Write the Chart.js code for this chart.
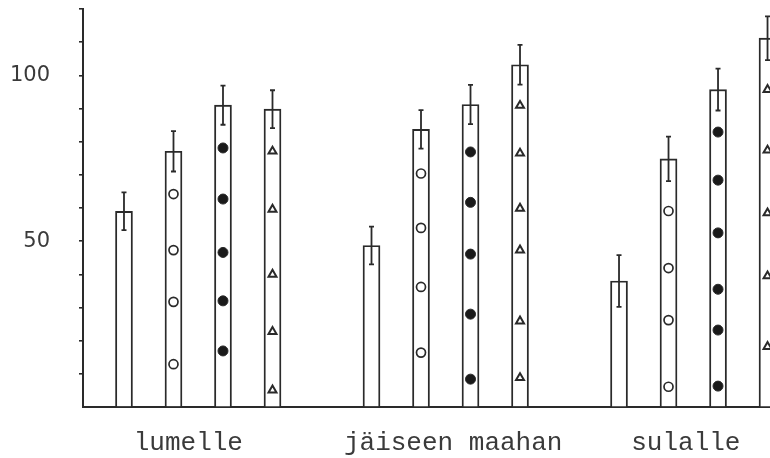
<!DOCTYPE html>
<html>
<head>
<meta charset="utf-8">
<script src="https://cdn.jsdelivr.net/npm/chart.js@4.4.1/dist/chart.umd.min.js"></script>
<style>
  html, body { margin: 0; padding: 0; background: #fff; }
  #wrap { width: 770px; height: 458px; }
</style>
</head>
<body>
<div id="wrap"><canvas id="chart" width="770" height="458"></canvas></div>
<script>
// ── data ─────────────────────────────────────────────────
const categories     = ['lumelle', 'jäiseen maahan', 'sulalle'];
const labelPositions = [1.3, 6.65, 11.35];
const yLabels        = [50, 100];

const plainValues    = [59.0, 48.7, 38.0];
const plainErrors    = [5.7, 5.7, 7.8];
const openValues     = [77.1, 83.7, 74.8];
const openErrors     = [6.1, 5.8, 6.7];
const filledValues   = [91.0, 91.2, 95.7];
const filledErrors   = [5.9, 5.9, 6.3];
const triangleValues = [89.8, 103.2, 111.2];
const triangleErrors = [5.7, 6.0, 6.6];

// symbols printed inside the bars
const openMarks     = [[64.2, 47.3, 31.7, 12.9], [70.4, 54.0, 36.2, 16.4], [59.1, 41.9, 26.2, 6.1]];
const filledMarks   = [[78.1, 62.7, 46.6, 32.0, 16.9], [76.9, 61.7, 46.1, 28.0, 8.4], [82.9, 68.4, 52.5, 35.5, 23.2, 6.3]];
const triangleMarks = [[77.1, 59.6, 40.0, 22.7, 5.1], [90.9, 76.5, 59.9, 47.3, 25.9, 8.8], [95.7, 77.4, 58.5, 39.5, 18.2]];

const INK = '#2a2a2a';
const SLOTS_PER_GROUP = 5;

const slot = (g, s) => g * SLOTS_PER_GROUP + s;

function barSet(values, errors, s) {
  return {
    type:            'bar',
    data:            values.map((v, g) => ({ x: slot(g, s), y: v })),
    errors:          errors,
    backgroundColor: '#fff',
    borderColor:     INK,
    borderWidth:     1.9,
    borderSkipped:   'bottom',
    barThickness:    17,
    grouped:         false,
    order:           2,
  };
}

function markSet(marks, s, style) {
  const pts = [];
  marks.forEach((list, g) => list.forEach(v => pts.push({ x: slot(g, s), y: v })));
  return Object.assign({
    type:        'scatter',
    data:        pts,
    borderColor: INK,
    order:       1,
  }, style);
}

// error bars: drawn from each bar's errors through the y scale
const errorBars = {
  id: 'errorBars',
  afterDatasetsDraw(chart) {
    const { ctx, scales: { y } } = chart;
    ctx.save();
    ctx.strokeStyle = INK;
    ctx.lineWidth   = 1.8;
    chart.data.datasets.forEach((ds, i) => {
      if (!ds.errors) return;
      chart.getDatasetMeta(i).data.forEach((el, j) => {
        const v  = ds.data[j].y;
        const e  = ds.errors[j];
        const yt = y.getPixelForValue(v + e);
        const yb = y.getPixelForValue(v - e);
        const x  = el.x;
        ctx.beginPath();
        ctx.moveTo(x, yt); ctx.lineTo(x, yb);
        ctx.moveTo(x - 2.5, yt); ctx.lineTo(x + 2.5, yt);
        ctx.moveTo(x - 2.5, yb); ctx.lineTo(x + 2.5, yb);
        ctx.stroke();
      });
    });
    ctx.restore();
  },
};

new Chart(document.getElementById('chart').getContext('2d'), {
  data: {
    datasets: [
      barSet(plainValues, plainErrors, 0),
      barSet(openValues, openErrors, 1),
      barSet(filledValues, filledErrors, 2),
      barSet(triangleValues, triangleErrors, 3),
      markSet(openMarks, 1, { pointStyle: 'circle', pointRadius: 4.5, pointBorderWidth: 1.7, pointBackgroundColor: '#fff' }),
      markSet(filledMarks, 2, { pointStyle: 'circle', pointRadius: 5, pointBorderWidth: 1, pointBackgroundColor: '#1a1a1a' }),
      markSet(triangleMarks, 3, { pointStyle: 'triangle', pointRadius: 4.6, pointBorderWidth: 2, pointBackgroundColor: '#fff' }),
    ],
  },
  options: {
    responsive:          false,
    animation:           false,
    layout:              { padding: 0, autoPadding: false },
    plugins:             { legend: { display: false }, tooltip: { enabled: false } },
    scales: {
      x: {
        type:   'linear',
        offset: false,
        min:    -0.828,
        max:    13.05,
        afterBuildTicks: (scale) => { scale.ticks = labelPositions.map(v => ({ value: v })); },
        afterFit:        (scale) => { scale.height = 51; scale.paddingLeft = 0; scale.paddingRight = 0; },
        grid:   { offset: false, drawOnChartArea: false, drawTicks: false, color: 'transparent' },
        border: { color: INK, width: 2 },
        ticks: {
          autoSkip:    false,
          maxRotation: 0,
          padding:     21,
          color:       '#3a3a3a',
          font:        { family: '"Liberation Mono", "Courier New", monospace', size: 26 },
          callback:    (v, i) => categories[i],
        },
      },
      y: {
        min: 0,
        max: 120,
        afterFit: (scale) => { scale.width = 83; scale.paddingTop = 9; scale.paddingBottom = 0; },
        grid: {
          drawOnChartArea: false,
          tickLength:      4,
          lineWidth:       1.6,
          color:           (c) => (c.tick && c.tick.value === 0 ? 'transparent' : INK),
        },
        border: { color: INK, width: 2 },
        ticks: {
          stepSize: 10,
          padding:  29,
          color:    '#3a3a3a',
          font:     { family: '"DejaVu Sans", sans-serif', size: 21 },
          callback: (v) => (yLabels.includes(v) ? String(v) : ''),
        },
      },
    },
  },
  plugins: [errorBars],
});
</script>
</body>
</html>
